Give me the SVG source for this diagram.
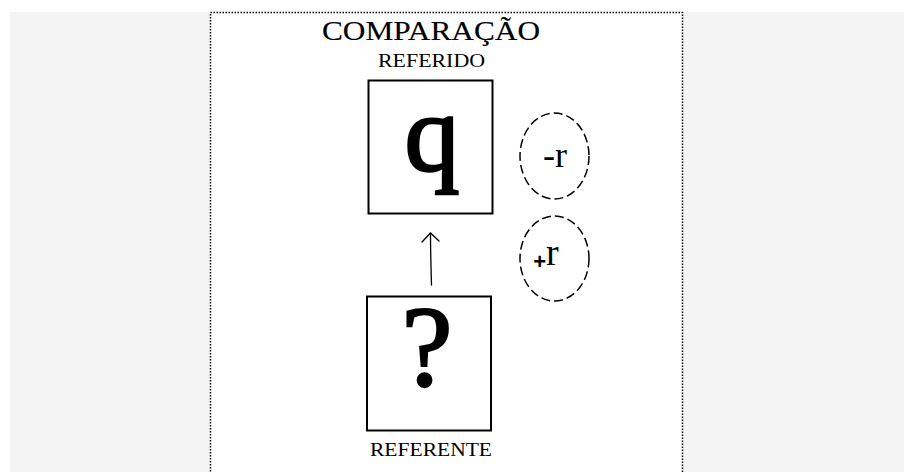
<svg xmlns="http://www.w3.org/2000/svg" width="904" height="472" viewBox="0 0 904 472">
<style>
.t{font-family:"Liberation Serif","Times New Roman",serif;fill:#000}
.mid{stroke:#000;stroke-width:0.15}
.big{stroke:#000;stroke-width:2.4}
.box{fill:none;stroke:#000;stroke-width:2}
.oval{fill:none;stroke:#000;stroke-width:1.5;stroke-dasharray:9 4}
.conn{fill:none;stroke:#000;stroke-width:1.3;stroke-linecap:round;stroke-linejoin:round}
</style>
<rect x="0" y="0" width="904" height="472" fill="#fff"/>
<rect x="10" y="12" width="894" height="460" fill="#f4f4f4"/>
<rect x="210.5" y="12.5" width="472" height="470" fill="#fff" stroke="#000" stroke-width="1.5" stroke-dasharray="1.5 1.5"/>
<g id="title">
<text class="t mid" x="431" y="40" font-size="27" text-anchor="middle" textLength="218" lengthAdjust="spacingAndGlyphs">COMPARAÇÃO</text>
</g>
<g id="referido">
<text class="t" x="431.5" y="67" font-size="18" text-anchor="middle" textLength="107" lengthAdjust="spacingAndGlyphs">REFERIDO</text>
<rect class="box" x="368.5" y="80.5" width="124" height="133"/>
<text class="t big" x="432" y="171" font-size="110" text-anchor="middle">q</text>
</g>
<g id="referente">
<rect class="box" x="367" y="296.5" width="124" height="134"/>
<text class="t big" x="427" y="385" font-size="114" text-anchor="middle">?</text>
<text class="t" x="431" y="456" font-size="18" text-anchor="middle" textLength="122" lengthAdjust="spacingAndGlyphs">REFERENTE</text>
</g>
<g id="minus-r">
<ellipse class="oval" cx="554.5" cy="156" rx="34.5" ry="43"/>
<text class="t" x="555" y="167" font-size="36" text-anchor="middle">-r</text>
</g>
<g id="plus-r">
<ellipse class="oval" cx="554.5" cy="258.5" rx="34.5" ry="42.5"/>
<text class="t" x="546" y="265" font-size="38" text-anchor="middle"><tspan font-family="Liberation Sans" font-weight="bold" font-size="22" dy="4">+</tspan><tspan dy="-4">r</tspan></text>
</g>
<g id="connectors">
<path class="conn" d="M431.5 285 C431 268 430.5 250 430.5 233"/>
<path class="conn" d="M422 242 L430.5 233 L439 241"/>
</g>
</svg>
